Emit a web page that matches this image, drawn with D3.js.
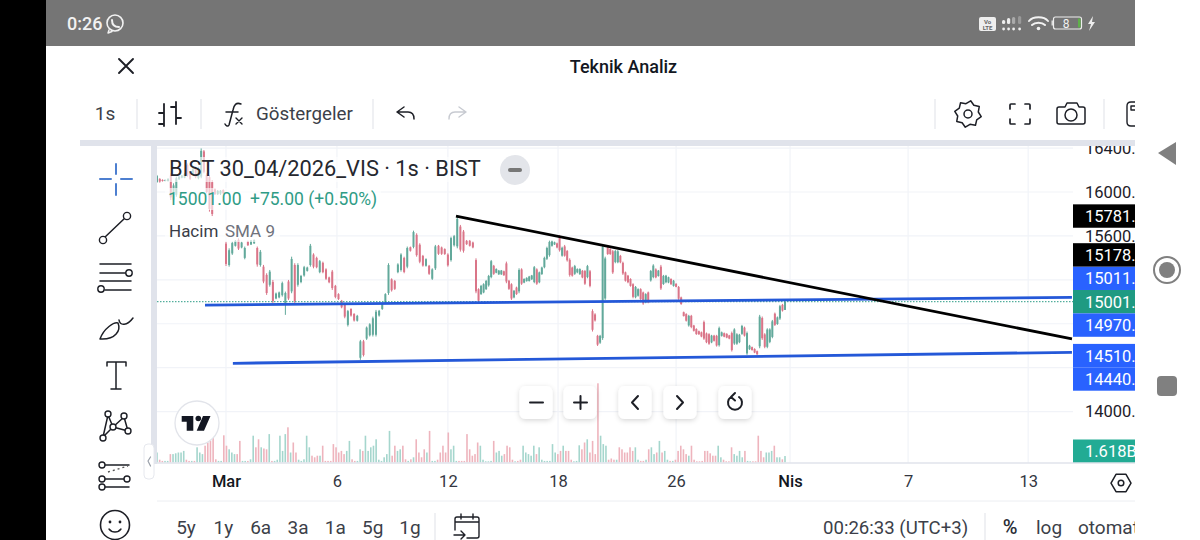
<!DOCTYPE html>
<html>
<head>
<meta charset="utf-8">
<script src="https://cdn.jsdelivr.net/npm/d3@7"></script>
<style>
  html, body { margin: 0; padding: 0; background: #fff; }
  svg { display: block; }
  text { font-family: Roboto, sans-serif; }
</style>
</head>
<body>
<div id="chart"></div>
<script>
// 1h bars (BIST 30 04/2026 VIS)
var opens = [
16090,16120,16110,16100,16100,16150,15930,15975,16115,16130,
16130,16245,16175,16160,16215,16125,16140,16370,16155,16135,
16090,16025,15980,15985,16018,15530,15335,15440,15510,15565,
15495,15400,15550,15522,15532,15490,15335,15320,15245,15155,
15180,15030,15040,15060,14985,15185,15095,15335,15155,15180,
15240,15282,15335,15430,15400,15270,15355,15295,15222,15275,
15145,15070,15010,14975,14790,14935,14890,14828,14490,14640,
14665,14695,14700,14700,14875,14935,14995,15080,15205,15190,
15270,15290,15400,15320,15497,15500,15610,15520,15418,15328,
15328,15210,15305,15510,15495,15480,15430,15380,15515,15505,
15685,15640,15555,15555,15540,15380,15115,15070,15085,15115,
15150,15225,15328,15265,15250,15250,15278,15350,15192,15160,
15040,15130,15095,15295,15175,15188,15190,15205,15180,15295,
15178,15252,15315,15392,15425,15510,15522,15532,15595,15420,
15505,15462,15382,15312,15255,15268,15252,15282,15280,15225,
15278,14915,14885,14690,14628,14670,15030,15495,15480,15460,
15362,15360,15418,15355,15268,15238,15208,15160,15042,15055,
15115,15085,14995,15085,15195,15225,15295,15235,15320,15162,
15178,15176,15208,15145,15164,15135,15040,14905,14888,14785,
14872,14784,14752,14732,14722,14815,14712,14705,14630,14692,
14690,14605,14690,14714,14708,14694,14715,14620,14618,14632,
14708,14765,14530,14568,14587,14570,14550,14595,14852,14703,
14590,14635,14680,14892,14798,14848,14972,14926];
var highs = [
16155,16125,16115,16115,16125,16170,16079,16140,16145,16155,
16170,16260,16185,16215,16230,16230,16397,16382,16170,16155,
16109,16033,16018,16018,16024,15548,15487,15548,15563,15578,
15548,15503,15557,15563,15569,15503,15472,15336,15260,15290,
15199,15084,15093,15184,15093,15199,15411,15351,15351,15245,
15327,15320,15527,15442,15411,15381,15366,15305,15229,15290,
15154,15078,15017,14987,14926,14941,14896,14881,14653,14653,
14775,14805,14865,14926,14926,14987,15078,15351,15214,15199,
15351,15442,15411,15503,15503,15648,15624,15533,15427,15396,
15336,15305,15518,15518,15503,15487,15442,15593,15609,15775,
15700,15654,15563,15563,15548,15396,15123,15154,15169,15199,
15245,15381,15336,15305,15290,15290,15284,15366,15199,15169,
15108,15138,15305,15305,15214,15223,15236,15245,15326,15305,
15275,15320,15411,15502,15557,15557,15548,15539,15609,15502,
15518,15472,15396,15320,15336,15305,15305,15290,15290,15336,
15290,14932,14896,14699,14699,15518,15411,15502,15487,15472,
15472,15472,15427,15366,15275,15245,15214,15169,15144,15123,
15123,15093,15078,15093,15290,15342,15305,15290,15336,15245,
15245,15229,15214,15199,15169,15144,15047,14911,14896,14881,
14881,14790,14759,14738,14729,14829,14720,14714,14699,14699,
14699,14774,14729,14720,14714,14699,14729,14759,14714,14708,
14790,14774,14729,14608,14592,14577,14556,14881,14866,14714,
14759,14759,14835,14902,14866,14972,14981,15002];
var lows = [
16085,16085,16095,16097,16095,15927,15912,15957,16110,16125,
16125,16140,16110,16155,16125,16115,16125,16170,15988,15821,
15781,15973,15973,15973,15982,15326,15320,15427,15503,15472,
15487,15387,15509,15517,15527,15320,15320,15169,15063,15138,
14987,15023,15032,15047,14881,15017,15078,14987,15138,15169,
15229,15275,15320,15305,15305,15260,15260,15199,15169,15108,
15032,15017,14941,14850,14775,14865,14820,14820,14471,14502,
14653,14684,14684,14684,14865,14926,14987,15063,15093,15108,
15260,15275,15260,15305,15457,15487,15411,15351,15320,15320,
15245,15199,15290,15427,15427,15427,15320,15366,15503,15487,
15457,15448,15518,15503,15487,15078,15002,15063,15078,15108,
15138,15214,15245,15260,15245,15245,15236,15169,15108,15017,
15032,15063,15078,15154,15169,15184,15184,15199,15169,15154,
15169,15245,15305,15381,15411,15502,15518,15487,15457,15411,
15411,15366,15229,15229,15245,15260,15245,15214,15154,15214,
15132,14729,14820,14598,14617,14653,15017,15427,15427,15254,
15351,15351,15351,15245,15184,15169,15138,15032,15032,15047,
15017,14972,14987,14987,15184,15214,15214,15229,15108,15154,
15169,15169,15154,15138,15132,15017,14972,14866,14820,14774,
14759,14729,14699,14699,14677,14653,14623,14608,14623,14638,
14592,14592,14683,14677,14668,14659,14547,14608,14608,14623,
14699,14683,14517,14562,14556,14532,14517,14577,14653,14577,
14577,14623,14668,14780,14790,14835,14911,14926];
var closes = [
16145,16095,16100,16110,16120,15950,16060,16125,16140,16150,
16165,16150,16120,16205,16135,16220,16375,16185,16000,15845,
15800,15980,16010,16012,15990,15345,15470,15535,15555,15485,
15540,15490,15515,15558,15562,15340,15455,15185,15080,15275,
15005,15075,15085,15170,15080,15030,15390,15005,15335,15235,
15315,15312,15510,15320,15315,15370,15270,15210,15178,15125,
15045,15025,14950,14865,14915,14875,14830,14872,14640,14515,
14765,14795,14850,14910,14918,14980,15070,15335,15105,15118,
15340,15430,15272,15490,15465,15635,15425,15365,15330,15388,
15255,15295,15505,15437,15437,15435,15332,15580,15598,15755,
15475,15465,15525,15510,15495,15095,15010,15145,15160,15190,
15235,15370,15255,15298,15284,15285,15242,15185,15118,15030,
15100,15070,15290,15165,15208,15218,15230,15240,15315,15165,
15268,15312,15400,15490,15545,15550,15542,15495,15470,15492,
15420,15378,15245,15238,15325,15298,15298,15222,15165,15325,
15145,14745,14830,14610,14690,15500,15395,15435,15435,15268,
15462,15460,15360,15258,15192,15178,15145,15045,15135,15115,
15025,14985,15070,14995,15280,15330,15222,15284,15122,15236,
15238,15224,15160,15192,15136,15028,14980,14870,14828,14872,
14770,14736,14706,14704,14684,14665,14632,14618,14692,14645,
14602,14760,14722,14682,14674,14665,14560,14748,14704,14700,
14780,14692,14715,14600,14560,14538,14522,14865,14668,14590,
14748,14748,14822,14790,14858,14960,14920,15001];
// volume, billions
var volumes = [
2.5,.7,.4,.4,.4,2.1,2.1,2.3,2.5,2.5,2.9,.7,.4,.4,.4,3.8,2.5,2.1,4.2,5,5.4,6.3,.8,.4,.4,
6.8,4.2,3.3,2.5,2.1,2.1,5.4,.4,.4,.4,.8,6.7,3.8,5.8,3.8,3.5,3.3,7.1,.4,.4,.7,6.7,2.9,7.1,8.8,2.5,5,2.5,.7,.4,.8,
6.7,3.8,1.7,1.3,1.7,1.7,4.2,.4,.4,.4,4.6,3.8,2.5,2.9,2.1,2.9,5.4,.8,.4,.4,3.3,2.9,6.7,2.9,3.8,4.2,5.8,.7,.4,1.3,2.1,
7.9,1.7,4.2,2.9,3.3,4.2,.8,.4,.8,1.3,5.8,2.5,1.3,3.3,2.5,7.9,.4,.4,.7,2.5,4.2,2.5,7.5,3.3,4.2,.4,.4,.4,.4,7.1,3.3,
1.7,2.1,5,4.2,.7,.3,.3,.4,5.4,2.5,2.9,1.7,2.1,4.2,3.8,.7,.3,.4,.7,4.2,2.5,2.1,1.7,4.2,2.1,3.8,.7,.4,.4,.4,
4.6,2.5,2.1,2.9,4.2,2.9,2.9,.7,.3,.4,4.3,3.3,5,5.8,2.5,5.4,2.1,19.8,6.7,4.6,4.2,.7,1,.7,.7,3.8,3.3,2.5,2.5,3.8,2.9,3.8,.7,.4,.4,.7,
3.3,3.8,2.1,2.5,5.4,2.5,2.9,.7,.4,.4,.7,2.9,4.2,3.3,2.1,1.7,4.2,.7,.3,.3,.4,2.9,2.9,2.3,1.7,1.7,4.2,1.3,.7,.3,.3,
3.8,2.1,1.7,2.9,1.3,2.9,.4,.3,.3,.3,6.7,2.9,1.3,2.5,2.5,2.9,4.2,1.3,1.3,.8,1.618];

var xTickBars = [25, 60.5, 96, 137.4, 184, 229, 275.6, 323];
var xTickLabels = ["Mar", "6", "12", "18", "26", "Nis", "7", "13"];
var monthLabels = ["Mar", "Nis"];
var gridPrices = [16400, 16000, 15600, 15200, 14800, 14400, 14000];
var axisPrices = [16400, 16000, 15600, 14000];

// drawn lines: [bar, price] pairs
var resistance = [[98.6, 15781], [340.3, 14662]];
var upperBand = [[17.4, 14970], [340.3, 15040]];
var lowerBand = [[27.2, 14440], [340.3, 14540]];

var lastPrice = 15001;
var tagsAbove = [15011, 15178, 15781];
var tagsAboveColors = ["#2962ff", "#000", "#000"];
var tagsBelow = [14970, 14510, 14440];
var rangeButtons = ["5y", "1y", "6a", "3a", "1a", "5g", "1g"];

var width = 1200, height = 540;
var plotL = 157, plotR = 1073, plotT = 146, plotB = 463, panelR = 1135;
var green = "#62a99b", red = "#da7488", blue = "#2458d8", ink = "#1d2029", grid = "#f1f3f8", band = "#e0e3eb";

var svg = d3.select("#chart").append("svg").attr("width", width).attr("height", height);
var defs = svg.append("defs");
defs.append("clipPath").attr("id", "plotClip").append("rect")
    .attr("x", plotL).attr("y", plotT).attr("width", plotR - plotL).attr("height", plotB - plotT);
defs.append("clipPath").attr("id", "axisClip").append("rect")
    .attr("x", plotR).attr("y", plotT).attr("width", panelR - plotR).attr("height", plotB - plotT);
defs.append("clipPath").attr("id", "panelClip").append("rect")
    .attr("x", 0).attr("y", 0).attr("width", panelR).attr("height", height);
var shadow = defs.append("filter").attr("id", "btnShadow").attr("x", "-30%").attr("y", "-30%").attr("width", "160%").attr("height", "170%");
shadow.append("feDropShadow").attr("dx", 0).attr("dy", 1.5).attr("stdDeviation", 2.5).attr("flood-color", "#000").attr("flood-opacity", 0.16);
var soft = defs.append("filter").attr("id", "soft");
soft.append("feGaussianBlur").attr("stdDeviation", 0.35);

// page frame
svg.append("rect").attr("width", 46).attr("height", height).attr("fill", "#000");
svg.append("rect").attr("x", 46).attr("width", panelR - 46).attr("height", 46).attr("fill", "#757575");
svg.append("rect").attr("x", 80).attr("y", 140).attr("width", panelR - 80).attr("height", 6).attr("fill", band);
svg.append("rect").attr("x", 151).attr("y", 146).attr("width", 6).attr("height", 318).attr("fill", band);

// scales, bars are not evenly spaced on screen so the x scale has anchors
var x = d3.scaleLinear().domain([0, 25, 105, 227]).range([157, 226, 476, 785]);
var xVol = d3.scaleLinear().domain([0, volumes.length - 1]).range([x(0), x(227)]);
var y = d3.scaleLinear().domain([14000, 16000]).range([411.6, 192]);
var yVol = d3.scaleLinear().domain([0, 20]).range([plotB - 0.5, plotB - 80.5]);

// grid
var gridG = svg.append("g").attr("clip-path", "url(#plotClip)");
gridG.selectAll(".hgrid").data(gridPrices).enter().append("line")
    .attr("x1", plotL).attr("x2", plotR)
    .attr("y1", function(d) { return y(d); }).attr("y2", function(d) { return y(d); })
    .attr("stroke", grid).attr("stroke-width", 1.2);
gridG.selectAll(".vgrid").data(xTickBars).enter().append("line")
    .attr("x1", function(d) { return x(d); }).attr("x2", function(d) { return x(d); })
    .attr("y1", plotT).attr("y2", plotB)
    .attr("stroke", grid).attr("stroke-width", 1.2);

// volume
var chartG = svg.append("g").attr("clip-path", "url(#plotClip)");
chartG.append("g").selectAll("rect").data(volumes).enter().append("rect")
    .attr("x", function(d, i) { return xVol(i) - 0.8; })
    .attr("width", 1.6)
    .attr("y", function(d) { return yVol(d); })
    .attr("height", function(d) { return yVol(0) - yVol(d); })
    .attr("fill", function(d, i) {
        var b = Math.max(0, Math.min(closes.length - 1, Math.round(x.invert(xVol(i)))));
        return closes[b] >= opens[b] ? "#a5d6cd" : "#eeb4bd";
    });

// candles
var candleG = chartG.append("g").attr("filter", "url(#soft)");
var candle = candleG.selectAll("g").data(closes).enter().append("g");
candle.append("line")
    .attr("x1", function(d, i) { return x(i); }).attr("x2", function(d, i) { return x(i); })
    .attr("y1", function(d, i) { return y(highs[i]); })
    .attr("y2", function(d, i) { return y(lows[i]); })
    .attr("stroke", function(d, i) { return d >= opens[i] ? green : red; })
    .attr("stroke-width", 1);
candle.append("rect")
    .attr("x", function(d, i) { return x(i) - 1; })
    .attr("width", 2)
    .attr("y", function(d, i) { return y(Math.max(d, opens[i])); })
    .attr("height", function(d, i) { return Math.max(1, Math.abs(y(d) - y(opens[i]))); })
    .attr("fill", function(d, i) { return d >= opens[i] ? green : red; });

// last price dotted line
chartG.append("line")
    .attr("x1", plotL).attr("x2", plotR).attr("y1", y(lastPrice)).attr("y2", y(lastPrice))
    .attr("stroke", "#2c9c86").attr("stroke-width", 1).attr("stroke-dasharray", "1.5 1.5");

// drawn trend lines
var lineGen = d3.line().x(function(d) { return x(d[0]); }).y(function(d) { return y(d[1]); });
[upperBand, lowerBand].forEach(function(l) {
    chartG.append("path").attr("d", lineGen(l)).attr("fill", "none").attr("stroke", blue).attr("stroke-width", 2.8);
});
chartG.append("path").attr("d", lineGen(resistance)).attr("fill", "none").attr("stroke", "#000").attr("stroke-width", 2.8);

// legend, washes out the bars behind it
[[165, 157, 325, 25], [165, 188, 216, 22], [165, 220, 115, 22]].forEach(function(r) {
    svg.append("rect").attr("x", r[0]).attr("y", r[1]).attr("width", r[2]).attr("height", r[3])
        .attr("fill", "#fff").attr("fill-opacity", 0.62);
});
function label(tx, ty, s, size, fill, anchor, weight) {
    return svg.append("text").attr("x", tx).attr("y", ty).text(s)
        .attr("font-size", size).attr("fill", fill || ink)
        .attr("text-anchor", anchor || "start").attr("font-weight", weight || 400);
}
label(169, 176, "BIST 30_04/2026_VIS · 1s · BIST", 21.8, "#26282f");
label(168, 205, "15001.00", 17.5, "#2f9c86");
label(250, 205, "+75.00 (+0.50%)", 17.5, "#2f9c86");
label(169, 237, "Hacim", 17, "#3a3d47");
label(225, 237, "SMA 9", 17, "#6f727c");

svg.append("circle").attr("cx", 515).attr("cy", 170).attr("r", 15).attr("fill", "#e3e5ea");
svg.append("line").attr("x1", 510).attr("x2", 520).attr("y1", 170).attr("y2", 170)
    .attr("stroke", "#777").attr("stroke-width", 4).attr("stroke-linecap", "round");

// price axis
var axisG = svg.append("g").attr("clip-path", "url(#axisClip)");
var yAxis = d3.axisRight(y).tickValues(axisPrices).tickSize(0).tickPadding(12)
    .tickFormat(function(d) { return d + "."; });
var yAxisG = axisG.append("g").attr("transform", "translate(" + plotR + ",0)").call(yAxis);
yAxisG.select(".domain").remove();
yAxisG.selectAll("text").attr("font-size", 16.5).attr("fill", ink).style("font-family", "Roboto, sans-serif");

// price tags pushed apart the way the chart stacks them
var tagH = 23.4, tags = [];
var tagY = y(lastPrice);
tags.push({ v: lastPrice, y: tagY, fill: "#1f9a82" });
tagsAbove.forEach(function(v, i) {
    tagY = Math.min(y(v), tagY - tagH);
    tags.push({ v: v, y: tagY, fill: tagsAboveColors[i] });
});
tagY = y(lastPrice);
tagsBelow.forEach(function(v) {
    tagY = Math.max(y(v), tagY + tagH);
    tags.push({ v: v, y: tagY, fill: "#2962ff" });
});
var tag = axisG.selectAll(".tag").data(tags).enter().append("g");
tag.append("rect").attr("x", plotR).attr("width", panelR - plotR).attr("height", tagH)
    .attr("y", function(d) { return d.y - tagH / 2; })
    .attr("fill", function(d) { return d.fill; });
tag.append("text").attr("x", plotR + 12).attr("y", function(d) { return d.y + 6; })
    .text(function(d) { return d.v + "."; })
    .attr("font-size", 16.5).attr("fill", "#fff");
axisG.append("rect").attr("x", plotR).attr("y", 439.5).attr("width", panelR - plotR).attr("height", 23.5).attr("fill", "#22ab94");
axisG.append("text").attr("x", plotR + 12).attr("y", 457).text("1.618B").attr("font-size", 16.5).attr("fill", "#fff");

// pane borders
svg.append("line").attr("x1", 157).attr("x2", panelR).attr("y1", 463).attr("y2", 463).attr("stroke", band).attr("stroke-width", 1.5);
svg.append("line").attr("x1", 157).attr("x2", panelR).attr("y1", 501).attr("y2", 501).attr("stroke", "#eceef2").attr("stroke-width", 1);

// time axis
var xAxis = d3.axisBottom(x).tickValues(xTickBars).tickSize(0).tickPadding(12)
    .tickFormat(function(d, i) { return xTickLabels[i]; });
var xAxisG = svg.append("g").attr("transform", "translate(0,463)").call(xAxis);
xAxisG.select(".domain").remove();
xAxisG.selectAll("text").attr("font-size", 16.5).attr("fill", "#33363f").style("font-family", "Roboto, sans-serif")
    .attr("font-weight", function() { return monthLabels.indexOf(this.textContent) >= 0 ? 500 : 400; })
    .attr("fill", function() { return monthLabels.indexOf(this.textContent) >= 0 ? "#131722" : "#33363f"; });

function stroke(g, d, w, c) {
    return g.append("path").attr("d", d).attr("fill", "none").attr("stroke", c || "#1d1f26")
        .attr("stroke-width", w || 1.6).attr("stroke-linecap", "round").attr("stroke-linejoin", "round");
}
function ring(g, cx, cy, r, w, c) {
    return g.append("circle").attr("cx", cx).attr("cy", cy).attr("r", r).attr("fill", "#fff")
        .attr("stroke", c || "#1d1f26").attr("stroke-width", w || 1.4);
}

// status bar
label(67, 30, "0:26", 18, "#f2f2f2", "start", 500);
var sb = svg.append("g");
ring(sb, 115, 23, 8, 1.6, "#f2f2f2").attr("fill", "none");
stroke(sb, "M109 30 L108 33 L112 31.5", 1.4, "#f2f2f2");
stroke(sb, "M112 20 C112 25 115 27 119 27", 2, "#f2f2f2");
sb.append("rect").attr("x", 979).attr("y", 17).attr("width", 17).attr("height", 14).attr("rx", 2).attr("fill", "#eee");
label(987.5, 23.5, "Vo", 6, "#666", "middle", 700);
label(987.5, 30, "LTE", 6, "#666", "middle", 700);
[[1002, 20, 4, 8, "#eee"], [1007, 18, 4, 10, "#eee"], [1012, 17, 4, 11, "#aaa"], [1018, 16, 4, 12, "#999"]].forEach(function(b) {
    sb.append("rect").attr("x", b[0]).attr("y", b[1]).attr("width", b[2] - 0.8).attr("height", b[3] - 4).attr("rx", 1.5).attr("fill", b[4]);
    sb.append("circle").attr("cx", b[0] + 1.6).attr("cy", 29).attr("r", 1.4).attr("fill", "#eee");
});
stroke(sb, "M1029 21 C1033 16 1044 16 1048 21", 2, "#f2f2f2");
stroke(sb, "M1032 25 C1035 22 1042 22 1045 25", 2, "#f2f2f2");
sb.append("circle").attr("cx", 1038.5).attr("cy", 28.5).attr("r", 1.8).attr("fill", "#f2f2f2");
sb.append("rect").attr("x", 1053.5).attr("y", 17).attr("width", 28).attr("height", 12).attr("rx", 2).attr("fill", "none").attr("stroke", "#eee").attr("stroke-width", 1.2);
sb.append("rect").attr("x", 1078).attr("y", 18.5).attr("width", 2.5).attr("height", 9).attr("fill", "#5fb04a");
sb.append("rect").attr("x", 1051.5).attr("y", 20.5).attr("width", 1.5).attr("height", 5).attr("fill", "#ddd");
label(1066, 28, "8", 12, "#f2f2f2", "middle");
sb.append("path").attr("d", "M1093 16 L1088 24 L1091 24 L1089 31 L1095 22 L1092 22 Z").attr("fill", "#eee");

// header
var hd = svg.append("g");
stroke(hd, "M119 59 L133 73 M133 59 L119 73", 1.9);
label(623.5, 73, "Teknik Analiz", 18, "#131722", "middle", 500);
label(105, 120, "1s", 19, "#3c3f49", "middle");
[137, 201, 373, 935, 1104].forEach(function(dx) {
    svg.append("line").attr("x1", dx).attr("x2", dx).attr("y1", 99).attr("y2", 129).attr("stroke", "#e4e6eb").attr("stroke-width", 1.2);
});
stroke(hd, "M164 104 L164 126 M164 113 L159 113 M159 124 L164 124 M176 102 L176 124 M176 107 L171 107 M176 118 L181 118", 1.8);
stroke(hd, "M241 104 C236 102 234 105 233 110 L229 125 C228 127 226 126 225 124 M226 112 L238 112", 1.5);
stroke(hd, "M236 118 L242 124 M242 118 L236 124", 1.4);
label(256, 120, "Göstergeler", 18.8, "#3c3f49");
stroke(hd, "M397 112 L404 107 M397 112 L404 117 M397 112 L408 112 C412 112 414 115 414 119", 1.5);
stroke(hd, "M466 112 L459 107 M466 112 L459 117 M466 112 L455 112 C451 112 449 115 449 119", 1.4, "#c7cad1");
var gearPts = d3.range(0, 16).map(function(k) {
    var a = k / 16 * Math.PI * 2 + 0.2, r = (k % 2 === 0) ? 13.5 : 10.5;
    return [968 + r * Math.cos(a), 114 + r * Math.sin(a)];
});
stroke(hd, d3.line().curve(d3.curveLinearClosed)(gearPts), 1.5);
ring(hd, 968, 114, 4, 1.5);
stroke(hd, "M1010 109 L1010 105 Q1010 104 1011 104 L1015 104 M1025 104 L1029 104 Q1030 104 1030 105 L1030 109 M1030 119 L1030 123 Q1030 124 1029 124 L1025 124 M1015 124 L1011 124 Q1010 124 1010 123 L1010 119", 1.7);
stroke(hd, "M1061 107 L1065 107 L1067 103 L1077 103 L1079 107 L1083 107 Q1085 107 1085 109 L1085 122 Q1085 124 1083 124 L1059 124 Q1057 124 1057 122 L1057 109 Q1057 107 1059 107 Z", 1.5);
ring(hd, 1071, 115, 6, 1.5);
var hdClip = hd.append("g").attr("clip-path", "url(#panelClip)");
stroke(hdClip, "M1140 102 L1131 102 Q1127 102 1127 106 L1127 122 Q1127 126 1131 126 L1140 126 M1131 106 L1136 106 L1136 110 L1131 110 Z", 1.4);

// left tool bar
var tb = svg.append("g");
stroke(tb, "M116 164 L116 174 M116 184 L116 195 M100 179 L111 179 M121 179 L132 179", 2, "#4d7fd0");
stroke(tb, "M104 238 L125 218", 1.5);
ring(tb, 103, 240, 3.6); ring(tb, 127, 216, 3.6);
stroke(tb, "M100 264 L131 264 M100 273 L127 273 M100 281 L131 281 M105 290 L131 290", 1.5);
ring(tb, 129, 273, 3.2); ring(tb, 101, 289, 3.2);
stroke(tb, "M100 339 C104 328 114 322 118 323 C121 330 116 340 100 339 Z M119 320 C120 326 127 326 133 318", 1.5);
stroke(tb, "M107 366 L107 362 L126 362 L126 366 M116 362 L116 389 M111 389 L121 389", 1.5);
stroke(tb, "M103 437 L108 415 L113 427 L124 417 L128 431 L113 427 L103 437", 1.5);
[[108, 414], [124, 416], [113, 427], [103, 438], [128, 431]].forEach(function(c) { ring(tb, c[0], c[1], 3); });
stroke(tb, "M102 465 L129 465 M102 479 L125 479 M102 487 L129 487", 1.5);
tb.append("path").attr("d", "M108 472 L128 466").attr("stroke", "#555").attr("stroke-dasharray", "2 3").attr("stroke-width", 1.4);
ring(tb, 102, 465, 3); ring(tb, 102, 479, 3); ring(tb, 127, 479, 3); ring(tb, 102, 487, 3);
ring(tb, 115, 525, 14.5, 1.6);
tb.append("circle").attr("cx", 110).attr("cy", 522).attr("r", 1.4).attr("fill", "#1d1f26");
tb.append("circle").attr("cx", 120).attr("cy", 522).attr("r", 1.4).attr("fill", "#1d1f26");
stroke(tb, "M109 529 C112 533 118 533 121 529", 1.4);
svg.append("rect").attr("x", 144).attr("y", 444).attr("width", 10).attr("height", 35).attr("rx", 4)
    .attr("fill", "#fff").attr("stroke", "#e6e8ee");
stroke(svg, "M150.5 457 L148 461 L150.5 466", 1.2, "#9aa0aa");

// TradingView badge
svg.append("circle").attr("cx", 197).attr("cy", 423).attr("r", 22).attr("fill", "#fff").attr("stroke", "#e2e4ea").attr("stroke-width", 1.3);
svg.append("path").attr("d", "M181.7 416 L193.3 416 L193.3 430.7 L186.7 430.7 L186.7 421.7 L181.7 421.7 Z M203 416 L210.5 416 L204 430.7 L196.7 430.7 Z").attr("fill", "#131722");
svg.append("circle").attr("cx", 198.3).attr("cy", 418.5).attr("r", 2.8).attr("fill", "#131722");

// chart zoom buttons
var btn = svg.append("g");
[536, 580, 635, 680, 735].forEach(function(cx) {
    btn.append("rect").attr("x", cx - 16.5).attr("y", 386).attr("width", 33).attr("height", 33).attr("rx", 6)
        .attr("fill", "#fff").attr("filter", "url(#btnShadow)");
});
stroke(btn, "M530 402.5 L543 402.5", 2);
stroke(btn, "M574 402.5 L587 402.5 M580.5 396 L580.5 409", 2);
stroke(btn, "M638 396 L632 402.5 L638 409", 2);
stroke(btn, "M677 396 L683 402.5 L677 409", 2);
stroke(btn, "M739 397 A7 7 0 1 1 731 397 M731 397 L735 393 M731 397 L735 400.5", 2);

// bottom bar
var rangeX = d3.scalePoint().domain(rangeButtons).range([186, 410]);
svg.append("g").selectAll("text").data(rangeButtons).enter().append("text")
    .attr("x", function(d) { return rangeX(d); }).attr("y", 534).text(function(d) { return d; })
    .attr("font-size", 19).attr("fill", "#3c3f49").attr("text-anchor", "middle");
[435, 985].forEach(function(dx) {
    svg.append("line").attr("x1", dx).attr("x2", dx).attr("y1", 513).attr("y2", 540).attr("stroke", "#e4e6eb").attr("stroke-width", 1.2);
});
stroke(svg, "M455 530 L455 519 Q455 517 457 517 L477 517 Q479 517 479 519 L479 536 Q479 538 477 538 L467 538 M455 522 L479 522 M461 514 L461 519 M473 514 L473 519 M454 535 L465 535 M461 531 L465 535 L461 539", 1.4);
label(823, 534, "00:26:33 (UTC+3)", 18.6, "#3c3f49");
label(1010, 534, "%", 20, "#2a2d36", "middle", 500);
label(1049, 534, "log", 19, "#3c3f49", "middle");
var bottomClip = svg.append("g").attr("clip-path", "url(#panelClip)");
bottomClip.append("text").attr("x", 1078).attr("y", 534).text("otomatik").attr("font-size", 19).attr("fill", "#3c3f49");
var hexPts = d3.range(0, 6).map(function(k) {
    var a = k / 6 * Math.PI * 2;
    return [1121 + 10 * Math.cos(a), 483 + 10 * Math.sin(a)];
});
stroke(svg, d3.line().curve(d3.curveLinearClosed)(hexPts), 1.5);
ring(svg, 1121, 483, 2.8, 1.5);

// phone nav keys
svg.append("path").attr("d", "M1158 153 L1176 142 L1176 165 Z").attr("fill", "#808080");
svg.append("circle").attr("cx", 1167).attr("cy", 270).attr("r", 13).attr("fill", "none").attr("stroke", "#808080").attr("stroke-width", 2);
svg.append("circle").attr("cx", 1167).attr("cy", 270).attr("r", 8).attr("fill", "#808080");
svg.append("rect").attr("x", 1157).attr("y", 376).attr("width", 20).attr("height", 20).attr("rx", 4).attr("fill", "#808080");
</script>
</body>
</html>
